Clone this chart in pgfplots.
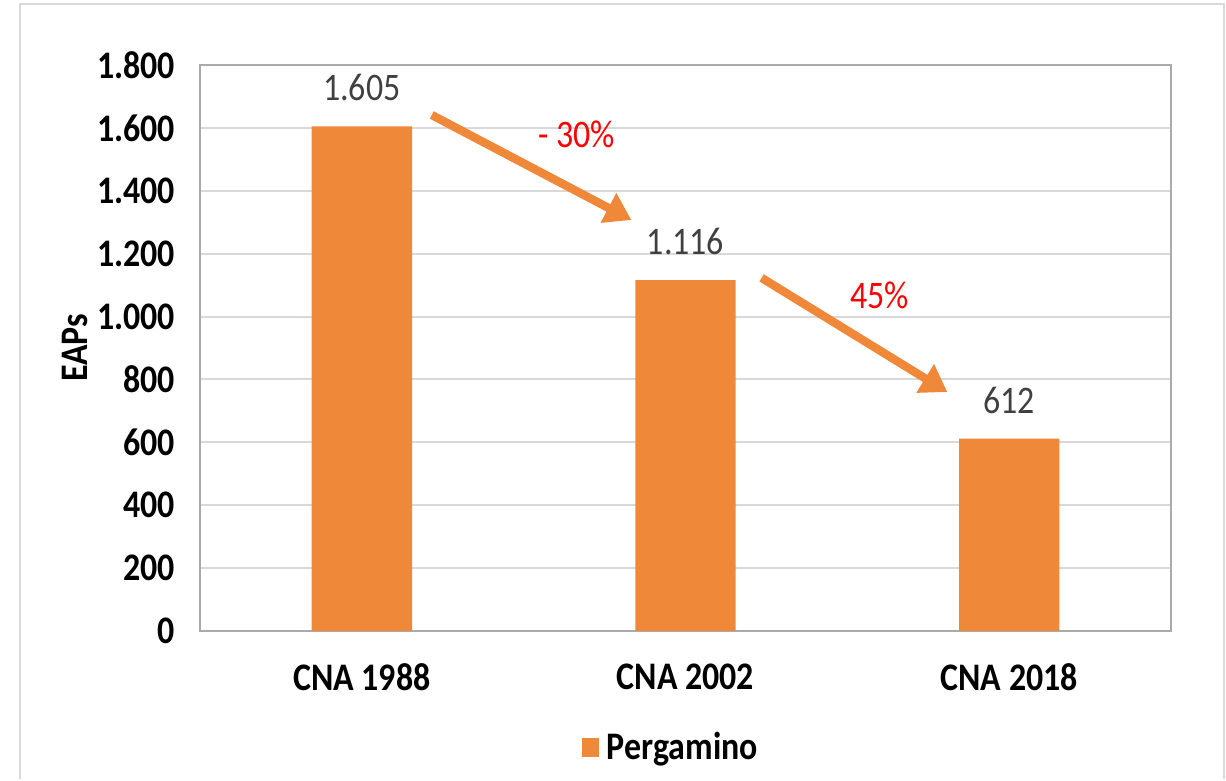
\documentclass[border=0pt]{standalone}
\usepackage{fontspec}
\setmainfont{Carlito}[FakeStretch=0.87]
\usepackage{pgfplots}
\pgfplotsset{compat=1.18}
\usetikzlibrary{arrows.meta,calc}

\definecolor{barorange}{RGB}{240,136,58}
\definecolor{gridgray}{RGB}{217,217,217}
\definecolor{boxgray}{RGB}{170,170,170}
\definecolor{labelgray}{RGB}{64,64,64}
\newcommand{\chartfont}{\fontsize{19.5}{22}\selectfont}

\begin{document}
\begin{tikzpicture}
\begin{axis}[
  width=485.5pt,height=283pt,scale only axis,
  xmin=-0.5,xmax=2.5,ymin=0,ymax=1800,
  xtick={0,1,2},xticklabels={CNA 1988,CNA 2002,CNA 2018},
  ytick={0,200,...,1800},
  scaled y ticks=false,
  /pgf/number format/1000 sep={.},
  /pgf/number format/assume math mode=true,
  tick label style={font=\chartfont\bfseries,black},
  xticklabel style={yshift=-13pt},
  yticklabel style={xshift=-9pt},
  major tick length=0pt,
  ymajorgrids,grid style={gridgray,line width=1pt},
  axis line style={boxgray,line width=1pt},
  ylabel={EAPs},
  ylabel style={font=\chartfont\bfseries,at={(axis description cs:-0.1287,0.5)},anchor=center},
  clip=false,
  legend style={draw=none,fill=none,at={(0.486,-0.205)},anchor=center,
    font=\chartfont\bfseries,legend cell align=left},
  legend image code/.code={\fill[barorange] (0pt,-4.75pt) rectangle (8.5pt,4.75pt);},
  nodes near coords,
  nodes near coords style={font=\chartfont,labelgray,yshift=9pt,
    /pgf/number format/1000 sep={.},/pgf/number format/assume math mode=true},
]
\addplot[ybar,bar width=0.31,fill=barorange,draw=none]
  coordinates {(0,1605) (1,1116) (2,612)};
\addlegendentry{\hspace{2pt}Pergamino}

\draw[barorange,line width=4.2pt,-{Triangle[length=13pt,width=16pt]}]
  (axis cs:0.216,1641) -- (axis cs:0.833,1307);
\draw[barorange,line width=4.2pt,-{Triangle[length=13pt,width=16pt]}]
  (axis cs:1.235,1123) -- (axis cs:1.809,760);
\node[red,font=\chartfont] at (axis cs:0.664,1578) {- 30\%};
\node[red,font=\chartfont] at (axis cs:1.599,1066) {45\%};
\end{axis}

\coordinate (sw) at (current axis.south west);
\coordinate (ne) at (current axis.north east);
\pgfresetboundingbox
\path ($(sw)+(-100pt,-74pt)$) rectangle ($(ne)+(27.5pt,32.5pt)$);
\draw[gridgray,line width=1.2pt]
  ($(sw)+(-90pt,-74pt)$) -- ($(sw|-ne)+(-90pt,30.5pt)$)
  -- ($(ne)+(26.5pt,30.5pt)$) -- ($(ne|-sw)+(26.5pt,-74pt)$);
\end{tikzpicture}
\end{document}
